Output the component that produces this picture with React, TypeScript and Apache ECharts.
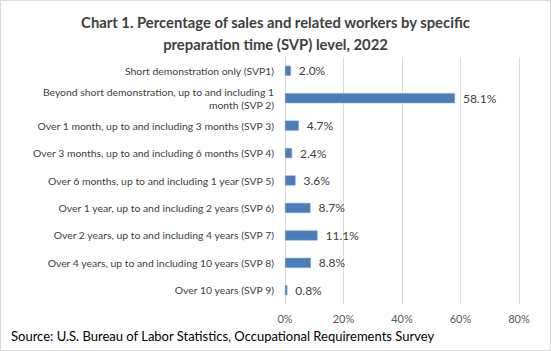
import React, { useEffect, useRef } from "react";
import * as echarts from "echarts";

const categories = [
  "Short demonstration only (SVP1)",
  "Beyond short demonstration, up to and including 1\nmonth (SVP 2)",
  "Over 1 month, up to and including 3 months (SVP 3)",
  "Over 3 months, up to and including 6 months (SVP 4)",
  "Over 6 months, up to and including 1 year (SVP 5)",
  "Over 1 year, up to and including 2 years (SVP 6)",
  "Over 2 years, up to and including 4 years (SVP 7)",
  "Over 4 years, up to and including 10 years (SVP 8)",
  "Over 10 years (SVP 9)",
];
const values = [2.0, 58.1, 4.7, 2.4, 3.6, 8.7, 11.1, 8.8, 0.8];

const titleText = "Chart 1. Percentage of sales and related workers by specific\npreparation time (SVP) level, 2022";
const sourceText = "Source: U.S. Bureau of Labor Statistics, Occupational Requirements Survey";

const FONT = "Lato, 'Open Sans', sans-serif";

export default function App() {
  const ref = useRef<HTMLDivElement>(null);
  useEffect(() => {
    document.body.style.margin = "0";
    const chart = echarts.init(ref.current!, null, { renderer: "svg" });
    chart.setOption({
      animation: false,
      backgroundColor: "#ffffff",
      title: {
        text: titleText,
        left: "center",
        top: 5,
        textStyle: {
          fontFamily: FONT,
          fontSize: 14.8,
          fontWeight: "bold",
          color: "#404040",
          lineHeight: 22,
        },
      },
      graphic: [
        {
          type: "text",
          left: 10,
          top: 328,
          style: {
            text: sourceText,
            font: `13px ${FONT}`,
            fill: "#000000",
          },
        },
      ],
      grid: { left: 284, right: 31, top: 56, bottom: 46, containLabel: false },
      xAxis: {
        type: "value",
        min: 0,
        max: 80,
        interval: 20,
        axisLine: { show: false },
        axisTick: { show: false },
        splitLine: { show: true, lineStyle: { color: "#d9d9d9", width: 1 } },
        axisLabel: {
          formatter: "{value}%",
          fontFamily: FONT,
          fontSize: 11,
          color: "#595959",
          margin: 9,
        },
      },
      yAxis: {
        type: "category",
        inverse: true,
        data: categories,
        axisLine: { show: true, lineStyle: { color: "#d9d9d9" } },
        axisTick: { show: false },
        axisLabel: {
          fontFamily: FONT,
          fontSize: 10.4,
          color: "#404040",
          margin: 11,
          lineHeight: 13,
          align: "right",
        },
      },
      series: [
        {
          type: "bar",
          data: values,
          barWidth: 10,
          itemStyle: { color: "#4a7ebb", borderColor: "#6f9bd1", borderWidth: 0.5 },
          label: {
            show: true,
            position: "right",
            distance: 8,
            formatter: (p: any) => p.value.toFixed(1) + "%",
            fontFamily: FONT,
            fontSize: 12,
            color: "#404040",
          },
        },
      ],
    });
    return () => chart.dispose();
  }, []);
  return (
    <div
      ref={ref}
      style={{
        width: 551,
        height: 351,
        boxSizing: "border-box",
        border: "1px solid #d9d9d9",
      }}
    />
  );
}
